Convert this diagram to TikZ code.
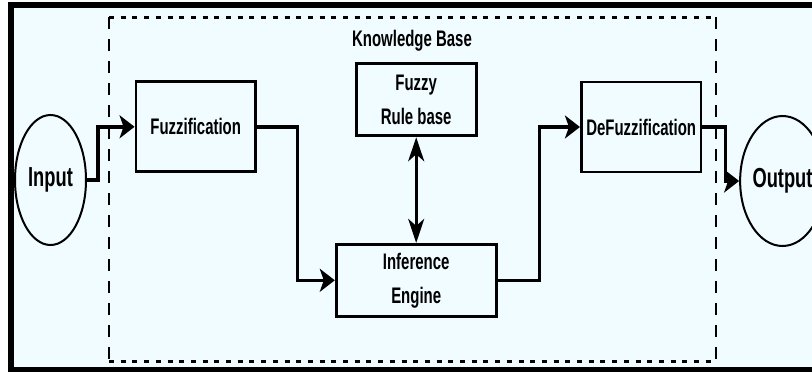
\documentclass[tikz,border=0pt]{standalone}
\usepackage{fontspec}
\setmainfont{Liberation Sans}[FakeStretch=0.665]
\usetikzlibrary{arrows.meta,shapes.geometric}
\definecolor{bgc}{RGB}{240,252,255}
\begin{document}
\begin{tikzpicture}[x=1pt,y=-1pt,
  blk/.style={draw, line width=2.8pt, inner sep=0pt, align=center,
    font=\fontsize{22.5}{34}\selectfont\bfseries},
  ell/.style={draw, ellipse, line width=2pt, inner sep=0pt,
    minimum width=71pt, minimum height=130pt,
    font=\fontsize{27.5}{30}\selectfont\bfseries},
  conn/.style={line width=3.5pt, -{Stealth[length=15pt,width=23pt,inset=4pt]}},
  dbl/.style={line width=3pt, {Stealth[length=24pt,width=16pt,inset=7pt]}-{Stealth[length=24pt,width=16pt,inset=7pt]}},
  hdash/.style={line width=3pt, dash pattern=on 5pt off 6.7pt},
  vdash/.style={line width=2.3pt, dash pattern=on 12pt off 10pt}]
\useasboundingbox (0,0) rectangle (812,372);
\fill[white] (0,0) rectangle (812,372);
\begin{scope}
\clip (0,0) rectangle (812,372);
\draw[line width=6pt, fill=bgc] (11,5) rectangle (850,369.5);
% knowledge base container
\draw[hdash] (109,17) -- (716,17);
\draw[hdash] (109,361) -- (716,361);
\draw[vdash] (109,17) -- (109,361);
\draw[vdash] (716,17) -- (716,361);
\node[font=\fontsize{22.5}{25}\selectfont\bfseries, anchor=base] (kb) at (412,46.7) {Knowledge Base};
% nodes
\node[ell] (in) at (50.5,180) {Input};
\node[ell] (out) at (782.5,181) {Output};
\node[blk, minimum width=119.5pt, minimum height=90pt] (fz) at (195.7,126.8) {Fuzzification};
\node[blk, minimum width=119.7pt, minimum height=90pt] (dfz) at (641.2,127) {DeFuzzification};
\node[blk, minimum width=120pt, minimum height=72.5pt] (rule) at (416.2,99.6) {Fuzzy\\Rule base};
\node[blk, minimum width=160pt, minimum height=72pt] (inf) at (416.2,280.3) {Inference\\Engine};
% connectors
\draw[conn] (in.east) -- ++(11,0) |- (fz.west);
\draw[conn] (fz.east) -- ++(40.5,0) |- (inf.west);
\draw[conn] (inf.east) -- ++(41.8,0) |- (dfz.west);
\draw[conn] (dfz.east) -- ++(23,0) |- (out.west);
\draw[dbl] (rule.south) -- (inf.north);
\end{scope}
\end{tikzpicture}
\end{document}
